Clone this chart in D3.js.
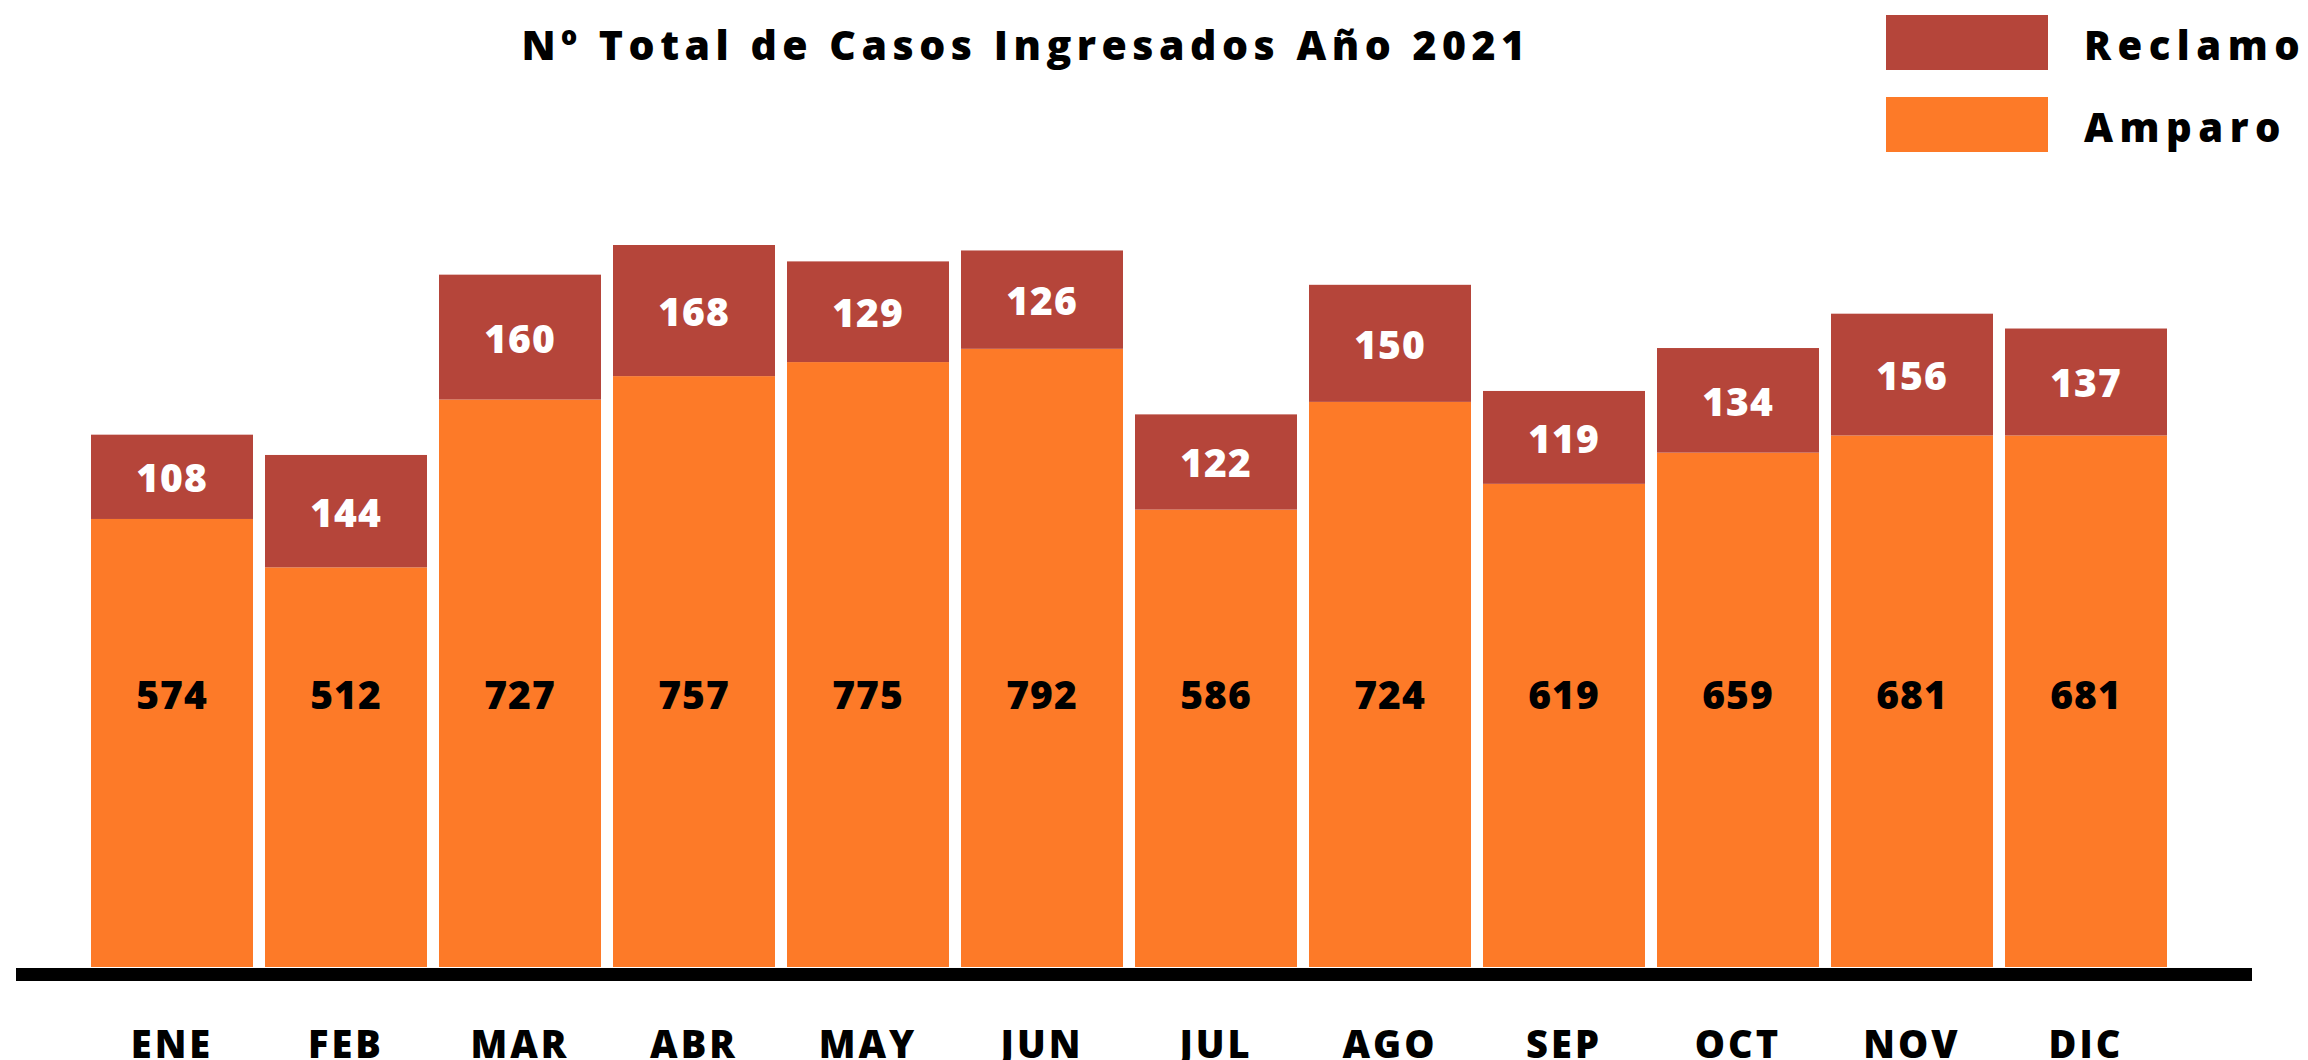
<!DOCTYPE html>
<html>
<head>
<meta charset="utf-8">
<script src="https://cdn.jsdelivr.net/npm/d3@7/dist/d3.min.js"></script>
<style>
  body { margin: 0; background: #fff; }
  text { font-family: "Open Sans", "Noto Sans", sans-serif; font-weight: 800; }
</style>
</head>
<body>
<div id="chart"></div>
<script>
// data
const months = ["ENE", "FEB", "MAR", "ABR", "MAY", "JUN", "JUL", "AGO", "SEP", "OCT", "NOV", "DIC"];
const amparo = [574, 512, 727, 757, 775, 792, 586, 724, 619, 659, 681, 681];
const reclamo = [108, 144, 160, 168, 129, 126, 122, 150, 119, 134, 156, 137];
const seriesNames = ["Reclamo", "Amparo"];
const seriesColors = ["#b5453a", "#fd7a28"];
const titleText = "Nº Total de Casos Ingresados Año 2021";

const width = 2308, height = 1060;
const margin = {top: 245, right: 141, bottom: 93, left: 91};
const innerW = width - margin.left - margin.right;
const innerH = height - margin.top - margin.bottom;

let svg = d3.select("#chart")
    .append("svg")
    .attr("width", width)
    .attr("height", height);

let g = svg.append("g")
    .attr("transform", `translate(${margin.left}, ${margin.top})`);

let rows = months.map(function(m, i) {
    return {month: m, Amparo: amparo[i], Reclamo: reclamo[i]};
});

let x = d3.scaleBand()
    .domain(months)
    .range([0, innerW])
    .paddingInner(0.069);

let y = d3.scaleLinear()
    .domain([0, d3.max(rows, function(d) { return d.Amparo + d.Reclamo; })])
    .range([innerH, 0]);

let color = d3.scaleOrdinal().domain(seriesNames).range(seriesColors);

// amparo at bottom, reclamo on top
let stacked = d3.stack().keys(["Amparo", "Reclamo"])(rows);

g.selectAll("g.layer")
    .data(stacked)
    .enter()
    .append("g")
    .attr("class", "layer")
    .attr("fill", function(d) { return color(d.key); })
    .selectAll("rect")
    .data(function(d) { return d; })
    .enter()
    .append("rect")
    .attr("x", function(d) { return x(d.data.month); })
    .attr("y", function(d) { return y(d[1]); })
    .attr("width", x.bandwidth())
    .attr("height", function(d) { return y(d[0]) - y(d[1]); });

// amparo values sit on one line
g.selectAll("text.amp")
    .data(rows)
    .enter()
    .append("text")
    .attr("class", "amp")
    .attr("x", function(d) { return x(d.month) + x.bandwidth() / 2; })
    .attr("y", innerH - 274)
    .attr("text-anchor", "middle")
    .attr("dominant-baseline", "central")
    .style("font-size", "39px")
    .style("letter-spacing", "1px")
    .style("fill", "#000")
    .text(function(d) { return d.Amparo; });

g.selectAll("text.rec")
    .data(stacked[1])
    .enter()
    .append("text")
    .attr("class", "rec")
    .attr("x", function(d) { return x(d.data.month) + x.bandwidth() / 2; })
    .attr("y", function(d) { return (y(d[0]) + y(d[1])) / 2; })
    .attr("text-anchor", "middle")
    .attr("dominant-baseline", "central")
    .style("font-size", "39px")
    .style("letter-spacing", "1px")
    .style("fill", "#fff")
    .text(function(d) { return d.data.Reclamo; });

// x axis: labels only, thick black base line drawn separately
let xAxis = g.append("g")
    .attr("transform", `translate(0, ${innerH})`)
    .call(d3.axisBottom(x).tickSize(0).tickPadding(64));
xAxis.select(".domain").remove();
xAxis.selectAll("text")
    .style("font-family", "'Open Sans', sans-serif")
    .style("font-weight", 800)
    .style("font-size", "38px")
    .style("letter-spacing", "3px")
    .style("fill", "#000");

g.append("line")
    .attr("x1", -75)
    .attr("x2", innerW + 85)
    .attr("y1", innerH + 7.5)
    .attr("y2", innerH + 7.5)
    .attr("stroke", "#000")
    .attr("stroke-width", 13);

svg.append("text")
    .attr("x", 1026)
    .attr("y", 44)
    .attr("text-anchor", "middle")
    .attr("dominant-baseline", "central")
    .style("font-size", "41px")
    .style("letter-spacing", "5.5px")
    .style("fill", "#000")
    .text(titleText);

// legend
let legend = svg.append("g").attr("transform", "translate(1886, 15)");
let items = legend.selectAll("g")
    .data(seriesNames)
    .enter()
    .append("g")
    .attr("transform", function(d, i) { return `translate(0, ${i * 82})`; });
items.append("rect")
    .attr("width", 162)
    .attr("height", 55)
    .attr("fill", function(d) { return color(d); });
items.append("text")
    .attr("x", 198)
    .attr("y", 29)
    .attr("dominant-baseline", "central")
    .style("font-size", "40px")
    .style("letter-spacing", "6.5px")
    .style("fill", "#000")
    .text(function(d) { return d; });
</script>
</body>
</html>
